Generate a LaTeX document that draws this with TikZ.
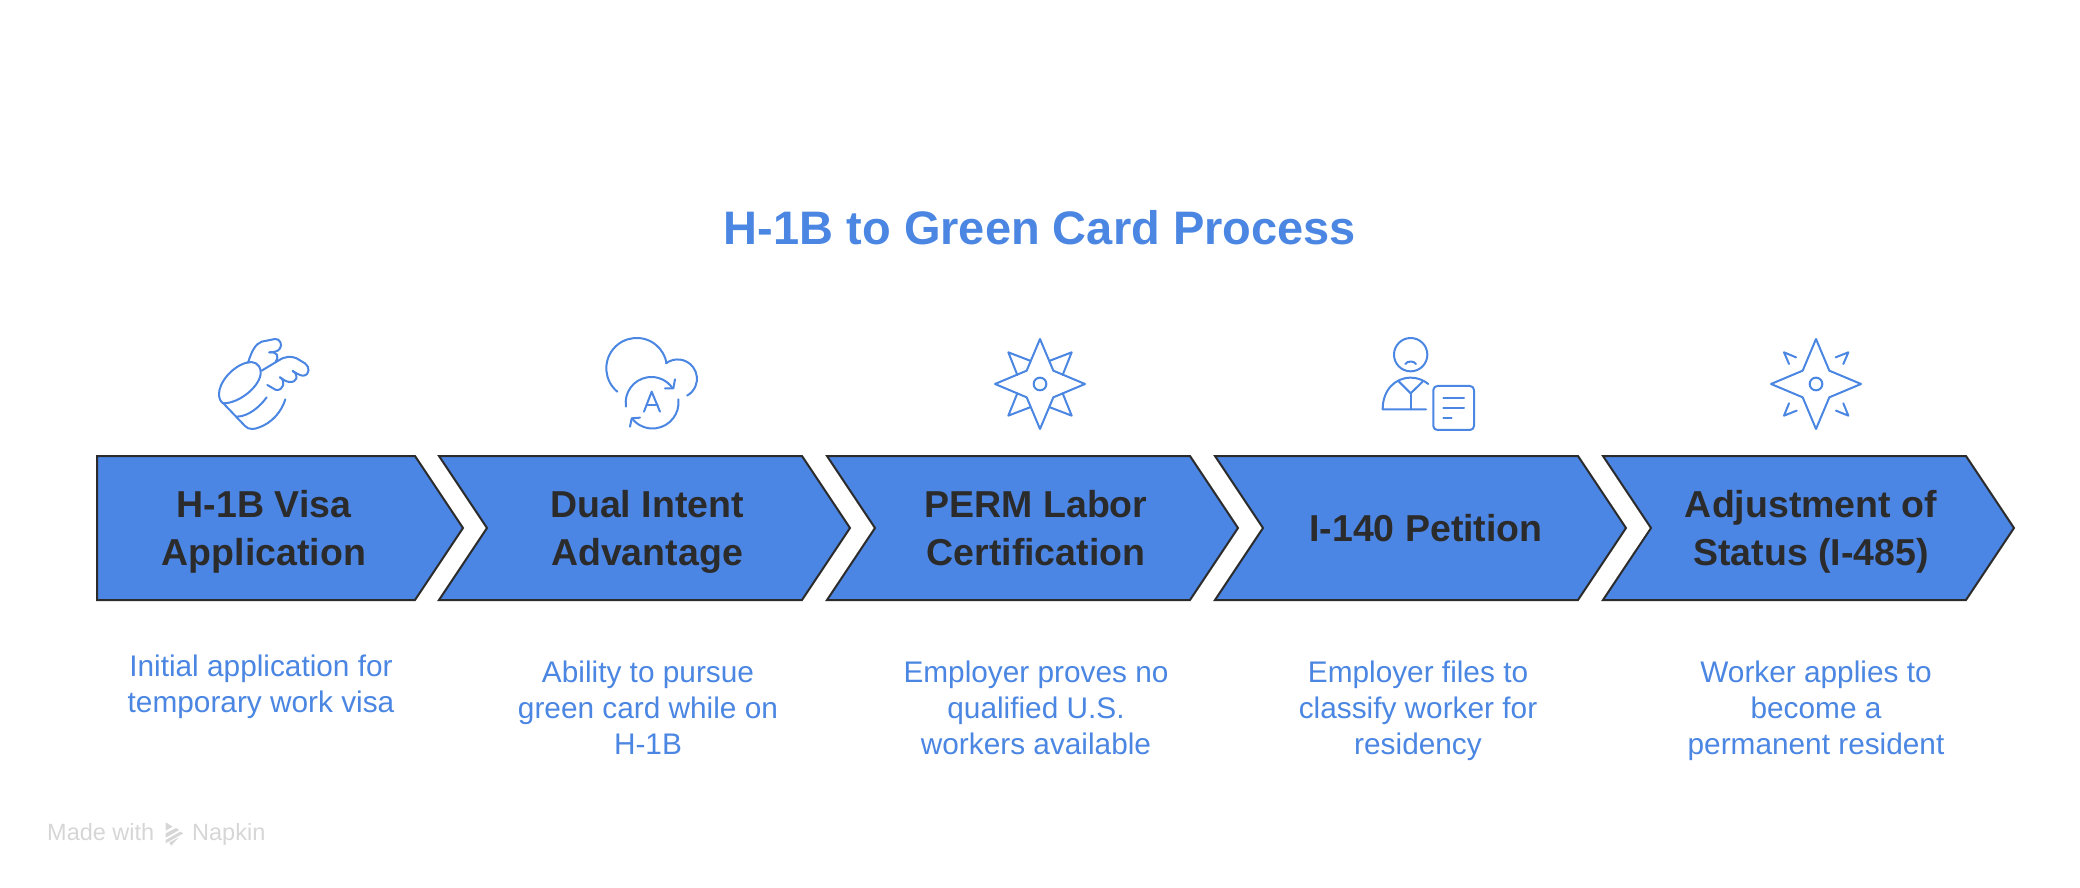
\documentclass[tikz,border=0pt]{standalone}
\usepackage{fontspec}
\setmainfont{Liberation Sans}
\usetikzlibrary{positioning, shapes.symbols, shapes.arrows}
\definecolor{stepblue}{HTML}{4C86E5}
\definecolor{noteblue}{HTML}{4A86E2}
\definecolor{stepink}{HTML}{2B2B2B}
\definecolor{markgrey}{HTML}{D6D6D6}
\tikzset{
  stepbox/.style={signal, signal to=east, signal from=west, signal pointer angle=112.6, draw=stepink, fill=stepblue, line width=2pt, minimum width=411pt, minimum height=144pt, inner sep=0pt, outer sep=0pt},
  steptext/.style={text=stepink, font=\fontsize{37.5}{48}\selectfont\bfseries, align=center, inner sep=0pt},
  stepnote/.style={text=noteblue, font=\fontsize{29.8}{36}\selectfont, align=center, inner sep=0pt},
  iconat/.style={shift={(#1)}, x=0.3333pt, y=-0.3333pt, draw=noteblue, line width=2pt, line join=round, line cap=round},
}
\begin{document}
\begin{tikzpicture}[x=1pt, y=-1pt, on grid]
  \useasboundingbox (0,0) rectangle (2080,888);
  \node[text=noteblue, font=\fontsize{47}{58}\selectfont\bfseries, inner sep=0pt] (title) at (1040,228) {H-1B to Green Card Process};

  \node[stepbox, signal from=nowhere, minimum width=366pt] (visa) at (256,528) {};
  \node[stepbox] (dual) at (644.5,528) {};
  \node[stepbox] (perm) [right=388pt of dual] {};
  \node[stepbox] (petition) [right=388pt of perm] {};
  \node[stepbox] (status) [right=388pt of petition] {};

  \node[steptext] (visatext) at (264,532) {H-1B Visa\\Application};
  \node[steptext] (dualtext) at (647,532) {Dual Intent\\Advantage};
  \node[steptext] (permtext) at (1036,528) {PERM Labor\\Certification};
  \node[steptext] (petitiontext) at (1426,528) {I-140 Petition};
  \node[steptext] (statustext) at (1811,532) {Adjustment of\\Status (I-485)};

  \node[stepnote] (visanote) at (261,687) {Initial application for\\temporary work visa};
  \node[stepnote] (dualnote) at (648,708) {Ability to pursue\\green card while on\\H-1B};
  \node[stepnote] (permnote) at (1036,708) {Employer proves no\\qualified U.S.\\workers available};
  \node[stepnote] (petitionnote) at (1418,711) {Employer files to\\classify worker for\\residency};
  \node[stepnote] (statusnote) at (1816,711) {Worker applies to\\become a\\permanent resident};

  \begin{scope}[iconat={190,320}]
    \draw (100,250) .. controls (150,250) and (215,195) .. (212,155) .. controls (210,130) and (190,122) .. (170,128) .. controls (125,140) and (85,190) .. (87,225) .. controls (88,240) and (95,248) .. (100,250);
    \draw (100,250) -- (165,318) .. controls (175,330) and (195,328) .. (205,323) .. controls (245,310) and (275,275) .. (286,238);
    \draw (140,290) .. controls (175,290) and (210,260) .. (230,232);
    \draw (174,128) .. controls (185,95) and (195,72) .. (215,65) -- (255,57) .. controls (270,55) and (278,75) .. (270,85) .. controls (265,95) and (250,97) .. (238,97);
    \draw (238,97) .. controls (262,95) and (268,108) .. (257,125);
    \draw (215,152) -- (265,122) .. controls (285,108) and (305,108) .. (320,115) -- (345,130) .. controls (360,140) and (360,165) .. (340,167) .. controls (330,167) and (320,160) .. (308,153);
    \draw (308,153) .. controls (328,165) and (322,188) .. (298,186) .. controls (288,185) and (278,178) .. (270,172);
    \draw (270,172) .. controls (288,182) and (282,212) .. (258,210) -- (232,195);
  \end{scope}

  \begin{scope}[iconat={590,320}]
    \draw (82,215) arc[start angle=129.6, end angle=350.3, radius=91];
    \draw (228,130) arc[start angle=233, end angle=420.5, radius=58];
    \draw (108,260) arc[start angle=171, end angle=326, radius=77];
    \draw (255,178) -- (250,205) -- (225,205);
    \draw (265,238) arc[start angle=-7, end angle=142, radius=78];
    \draw (120,320) -- (125,295) -- (150,293);
    \draw (162,275) -- (185,215) -- (210,275);
    \draw (170,255) -- (203,255);
  \end{scope}

  \begin{scope}[iconat={970,320}]
    \draw (210,57) -- (250,152) -- (345,192) -- (250,232) -- (210,327) -- (170,232) -- (75,192) -- (170,152) -- cycle;
    \draw (240,122) -- (305,97) -- (278,165);
    \draw (180,122) -- (115,97) -- (142,165);
    \draw (240,262) -- (305,287) -- (278,220);
    \draw (180,262) -- (115,287) -- (142,220);
    \draw (210,192) circle[radius=19];
  \end{scope}

  \begin{scope}[iconat={1360,320}]
    \draw (152,104) circle[radius=50];
    \draw (136,132) .. controls (142,122) and (162,122) .. (168,132);
    \draw (198,268) -- (68,268) .. controls (68,210) and (105,173) .. (152,173) .. controls (172,173) and (190,180) .. (205,192);
    \draw (115,183) -- (152,220) -- (190,183);
    \draw (152,220) -- (152,268);
    \draw[rounded corners=4pt] (220,198) rectangle (342,330);
    \draw (250,233) -- (312,233);
    \draw (250,263) -- (312,263);
    \draw (250,293) -- (275,293);
  \end{scope}

  \begin{scope}[iconat={1750,320}]
    \draw (198,57) -- (238,152) -- (333,192) -- (238,232) -- (198,327) -- (158,232) -- (63,192) -- (158,152) -- cycle;
    \draw (257,112) -- (295,97) -- (280,132);
    \draw (138,112) -- (102,97) -- (117,132);
    \draw (258,272) -- (295,287) -- (280,250);
    \draw (140,272) -- (102,287) -- (117,250);
    \draw (198,192) circle[radius=19];
  \end{scope}

  \node[text=markgrey, font=\fontsize{23.5}{28}\selectfont, anchor=base west, inner sep=0pt] (madewith) at (47,840) {Made with};
  \node[text=markgrey, font=\fontsize{23.5}{28}\selectfont, anchor=base west, inner sep=0pt] (napkin) at (192,840) {Napkin};
  \begin{scope}[shift={(30,800)}, x=0.3333pt, y=-0.3333pt]
    \fill[markgrey] (407,67) -- (428,80) -- (407,92) -- cycle;
    \fill[markgrey] (407,100) -- (438,84) -- (448,90) -- (407,113) -- cycle;
    \fill[markgrey] (407,120) -- (451,95) -- (460,100) -- (407,130) -- cycle;
    \fill[markgrey] (418,128) -- (446,112) -- (424,137) -- cycle;
  \end{scope}
\end{tikzpicture}
\end{document}
